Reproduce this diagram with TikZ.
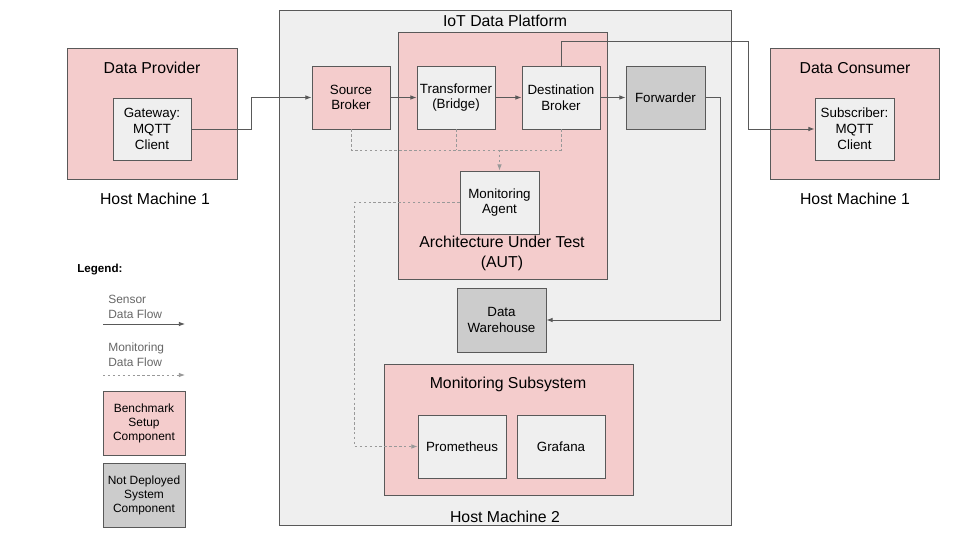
\documentclass[tikz,border=0pt]{standalone}
\usepackage{fontspec}
\setmainfont{Liberation Sans}
\usepackage{xcolor}
\usetikzlibrary{arrows.meta, positioning}

\definecolor{benchpink}{HTML}{F4CCCC}
\definecolor{paleback}{HTML}{EFEFEF}
\definecolor{notdeployed}{HTML}{CCCCCC}
\definecolor{edgegray}{HTML}{595959}
\definecolor{dashgray}{HTML}{999999}
\definecolor{legendtext}{HTML}{666666}

\begin{document}
\begin{tikzpicture}[
        x=0.02cm, y=-0.02cm,
        sz/.style 2 args={minimum width=#1*0.02cm, minimum height=#2*0.02cm},
        box/.style={rectangle, draw=edgegray, line width=0.5pt, inner sep=0pt,
            align=center, font=\fontsize{7.6}{9}\selectfont},
        pinkbox/.style={box, fill=benchpink},
        palebox/.style={box, fill=paleback},
        greybox/.style={box, fill=notdeployed},
        title/.style={inner sep=0pt, align=center, font=\fontsize{9}{11.3}\selectfont},
        legtext/.style={inner sep=0pt, align=left, anchor=west, text=legendtext,
            font=\fontsize{6.8}{8.5}\selectfont},
        legbox/.style={font=\fontsize{6.8}{8}\selectfont},
        flow/.style={draw=edgegray, line width=0.5pt,
            -{Latex[length=3.5pt, width=2.6pt]}},
        mon/.style={draw=dashgray, line width=0.5pt, dash pattern=on 1.4pt off 1.4pt},
        monflow/.style={mon, -{Latex[length=3.5pt, width=2.6pt]}}
    ]
    \useasboundingbox (0,0) rectangle (960,540);

    % platform
    \node[palebox, sz={452}{515}] (plat) at (505,267.5) {};
    \node[title] (platT) at (505,21) {IoT Data Platform};
    \node[title] (host2) at (505,517) {Host Machine 2};

    % data provider
    \node[pinkbox, sz={170}{131}] (prov) at (152,113.5) {};
    \node[title] (provT) at (152,68) {Data Provider};
    \node[palebox, sz={78}{62}] (gw) at (152,129) {Gateway:\\MQTT\\Client};
    \node[title] (host1a) at (155,199) {Host Machine 1};

    % data consumer
    \node[pinkbox, sz={169}{131}] (cons) at (854.5,113.5) {};
    \node[title] (consT) at (855,68) {Data Consumer};
    \node[palebox, sz={79}{62}] (sub) at (854.5,129) {Subscriber:\\MQTT\\Client};
    \node[title] (host1b) at (855,199) {Host Machine 1};

    % architecture under test
    \node[pinkbox, sz={209}{247}] (aut) at (502.5,155.5) {};
    \node[title] (autT) at (502,253) {Architecture Under Test\\(AUT)};

    \node[pinkbox, sz={78}{63}] (src) at (351,97.5) {Source\\Broker};
    \node[palebox, sz={78}{63}] (tr) at (456,97.5) {Transformer\\(Bridge)};
    \node[palebox, sz={78}{63}] (dst) at (561,97.5) {Destination\\Broker};
    \node[greybox, sz={79}{63}] (fwd) at (665.5,97.5) {Forwarder};
    \node[palebox, sz={79}{63}] (agent) at (499.5,202.5) {Monitoring\\Agent};
    \node[greybox, sz={89}{64}] (dw) at (501.5,320) {Data\\Warehouse};

    % monitoring subsystem
    \node[pinkbox, sz={249}{131}] (msub) at (508.5,429.5) {};
    \node[title] (msubT) at (508,384) {Monitoring Subsystem};
    \node[palebox, sz={88}{63}] (prom) at (462,446.5) {Prometheus};
    \node[palebox, sz={88}{63}] (graf) at (561,446.5) {Grafana};

    % sensor data flow
    \coordinate (tap) at (748,41);
    \draw[flow] (gw.east) -- ++(60,0) |- (src.west);
    \draw[flow] (src) -- (tr);
    \draw[flow] (tr) -- (dst);
    \draw[flow] (dst) -- (fwd);
    \draw[flow] (dst.north) |- (tap) |- (sub.west);
    \draw[flow] (fwd.east) -- ++(15,0) |- (dw.east);

    % monitoring data flow
    \coordinate (mjoin) at (499.5,150);
    \draw[mon] (src.south) |- (mjoin);
    \draw[mon] (dst.south) |- (mjoin);
    \draw[mon] (tr.south) -- (tr.south |- mjoin);
    \draw[monflow] (mjoin) -- (agent.north);
    \draw[monflow] (agent.west) -- ++(-105,0) |- (prom.west);

    % legend
    \node[inner sep=0pt, anchor=west, font=\bfseries\fontsize{6.6}{8}\selectfont] (legT) at (77,270) {Legend:};
    \node[legtext] (legS) at (108,307) {Sensor\\Data Flow};
    \coordinate (lgSa) at (103,324);
    \coordinate (lgSb) at (185,324);
    \draw[flow] (lgSa) -- (lgSb);
    \node[legtext] (legM) at (108,355) {Monitoring\\Data Flow};
    \coordinate (lgMa) at (103,375);
    \coordinate (lgMb) at (185,375);
    \draw[monflow] (lgMa) -- (lgMb);
    \node[pinkbox, legbox, sz={82}{64}] (legB) at (144,423) {Benchmark\\Setup\\Component};
    \node[greybox, legbox, sz={82}{64}] (legN) at (144,495) {Not Deployed\\System\\Component};

\end{tikzpicture}
\end{document}
